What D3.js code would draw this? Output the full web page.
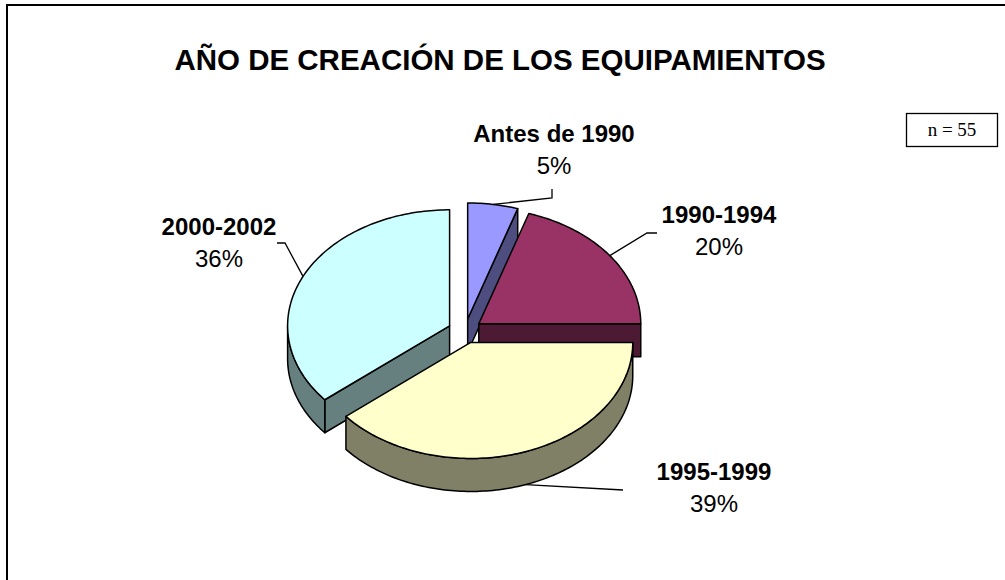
<!DOCTYPE html>
<html>
<head>
<meta charset="utf-8">
<script src="https://cdn.jsdelivr.net/npm/d3@7"></script>
<style>
  body { margin: 0; background: #fff; }
  svg { display: block; }
</style>
</head>
<body>
<div id="chart"></div>
<script>
// data
var categories = ["Antes de 1990", "1990-1994", "1995-1999", "2000-2002"];
var percents = [5, 20, 39, 36];
var topColors = ["#9999ff", "#993366", "#ffffcc", "#ccffff"];
var sideColors = ["#4d4d80", "#4d1a33", "#808066", "#668080"];
var titleText = "AÑO DE CREACIÓN DE LOS EQUIPAMIENTOS";
var noteText = "n = 55";

var width = 1005, height = 580;

// pie geometry (3d look: flattened ellipse + depth)
var cx = 465, cy = 331, rx = 162, ry = 116, depth = 33;
var explode = 0.105;

// label layout: centre x, baseline of name, elbow points of leader line
var labelLayout = {
  "Antes de 1990": { x: 554, y: 142, elbow: [[552, 198], [552, 189]] },
  "1990-1994":     { x: 719, y: 223, elbow: [[647, 233], [657, 233]] },
  "1995-1999":     { x: 714, y: 480, elbow: [[623, 490]] },
  "2000-2002":     { x: 219, y: 235, elbow: [[285, 243], [277, 243]] }
};

var svg = d3.select("#chart").append("svg")
    .attr("width", width)
    .attr("height", height);

// outer frame, runs off the right and bottom edge
svg.append("rect")
    .attr("x", 7).attr("y", 5)
    .attr("width", 1100).attr("height", 700)
    .attr("fill", "none")
    .attr("stroke", "#000")
    .attr("stroke-width", 2);

svg.append("text")
    .attr("x", 500).attr("y", 70)
    .attr("text-anchor", "middle")
    .style("font-family", "'Liberation Sans', Arial, sans-serif")
    .style("font-weight", "bold")
    .style("font-size", "29.5px")
    .text(titleText);

// n = 55 box
svg.append("rect")
    .attr("x", 906.5).attr("y", 113.5)
    .attr("width", 91).attr("height", 33)
    .attr("fill", "#fff")
    .attr("stroke", "#000")
    .attr("stroke-width", 1.3);
svg.append("text")
    .attr("x", 952).attr("y", 136)
    .attr("text-anchor", "middle")
    .style("font-family", "'Liberation Serif', 'Times New Roman', serif")
    .style("font-size", "19px")
    .text(noteText);

var pie = d3.pie().sort(null).value(function(d) { return d.value; });
var data = categories.map(function(c, i) {
  return { name: c, value: percents[i], top: topColors[i], side: sideColors[i] };
});
var arcs = pie(data);

function pt(ox, oy, a, dz) {
  return [ox + rx * Math.sin(a), oy - ry * Math.cos(a) + (dz || 0)];
}

var line = d3.line();

function rimPoints(ox, oy, a0, a1, dz) {
  var n = Math.max(2, Math.ceil(Math.abs(a1 - a0) / 0.02));
  var pts = [];
  for (var k = 0; k <= n; k++) {
    pts.push(pt(ox, oy, a0 + (a1 - a0) * k / n, dz));
  }
  return pts;
}

arcs.forEach(function(d) {
  d.mid = (d.startAngle + d.endAngle) / 2;
  d.ox = cx + explode * rx * Math.sin(d.mid);
  d.oy = cy - explode * ry * Math.cos(d.mid);
});

// back slices first
var order = arcs.slice().sort(function(a, b) { return Math.cos(b.mid) - Math.cos(a.mid); });

var g = svg.append("g")
    .attr("stroke", "#000")
    .attr("stroke-width", 1.5)
    .attr("stroke-linejoin", "round");

order.forEach(function(d) {
  var a0 = d.startAngle, a1 = d.endAngle;
  var walls = [];
  // cut faces that turn toward the viewer
  if (Math.sin(a0) < -1e-6) walls.push(a0);
  if (Math.sin(a1) > 1e-6) walls.push(a1);
  walls.forEach(function(a) {
    var p = pt(d.ox, d.oy, a);
    g.append("path")
      .attr("d", line([[d.ox, d.oy], p, [p[0], p[1] + depth], [d.ox, d.oy + depth]]) + "Z")
      .attr("fill", d.data.side);
  });
  // outer wall, front part only
  var s = Math.max(a0, Math.PI / 2), e = Math.min(a1, 3 * Math.PI / 2);
  if (e > s) {
    var topRim = rimPoints(d.ox, d.oy, s, e, 0);
    var botRim = rimPoints(d.ox, d.oy, e, s, depth);
    g.append("path")
      .attr("d", line(topRim.concat(botRim)) + "Z")
      .attr("fill", d.data.side);
  }
  // top face
  var face = [[d.ox, d.oy]].concat(rimPoints(d.ox, d.oy, a0, a1, 0));
  g.append("path")
    .attr("d", line(face) + "Z")
    .attr("fill", d.data.top);
});

// labels and leader lines
arcs.forEach(function(d) {
  var L = labelLayout[d.data.name];
  var front = Math.cos(d.mid) < 0;
  var start = pt(d.ox, d.oy, d.mid, front ? depth : 0);
  svg.append("path")
    .attr("d", line([start].concat(L.elbow)))
    .attr("fill", "none")
    .attr("stroke", "#000")
    .attr("stroke-width", 1.3);
  var t = svg.append("text")
    .attr("text-anchor", "middle")
    .style("font-family", "'Liberation Sans', Arial, sans-serif")
    .style("font-size", "24px");
  t.append("tspan")
    .attr("x", L.x).attr("y", L.y)
    .style("font-weight", "bold")
    .text(d.data.name);
  t.append("tspan")
    .attr("x", L.x).attr("y", L.y + 32)
    .text(d.data.value + "%");
});
</script>
</body>
</html>
